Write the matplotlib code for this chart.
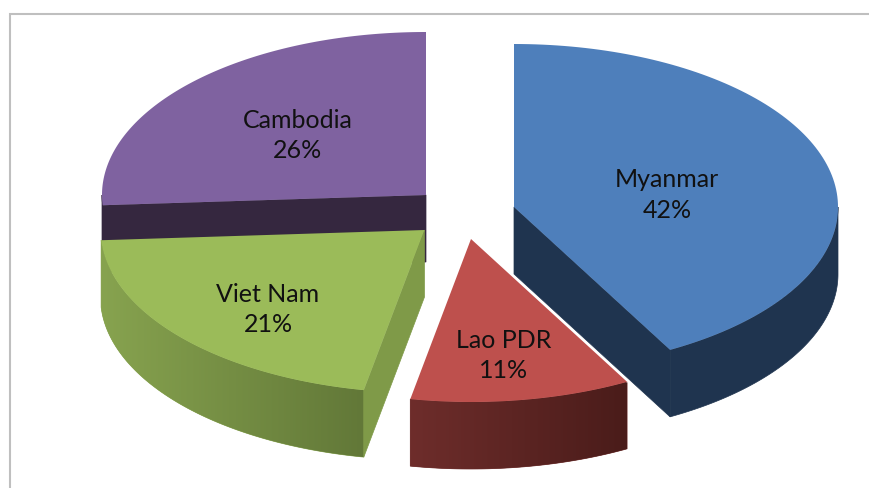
import numpy as np
import matplotlib
matplotlib.use('Agg')
import matplotlib.pyplot as plt
from matplotlib.colors import to_rgb
from matplotlib.patches import Polygon

# values, clockwise from 12 o'clock
labels = ['Myanmar', 'Lao PDR', 'Viet Nam', 'Cambodia']
values = [42, 11, 21, 26]

top_colors = ['#4E7FBB', '#BE504D', '#9BBB59', '#7F62A0']
face_colors = ['#1F344F', '#4A1C1A', '#7F9A48', '#35273F']
# outer wall gradient, left to right
wall_colors = [('#1F344F', '#1F344F'), ('#6E2D2B', '#4A1C1A'),
               ('#87A34F', '#627838'), ('#35273F', '#35273F')]

# exploded slice apex in pixels
apex_x = [514, 471, 424.5, 426]
apex_y = [208, 240, 231, 196]
label_x = [667, 504, 268, 298]
label_y = [195, 355.5, 309.5, 135.5]

rx = 324
ry = 163
depth = 67


def rim(cx, cy, a, b):
    t = np.radians(np.linspace(a, b, 120))
    return np.column_stack([cx + rx * np.sin(t), cy - ry * np.cos(t)])


def draw_wall(pts, colors):
    poly = Polygon(pts, closed=True, fc=colors[0], ec=colors[0], lw=0.5, zorder=order)
    ax.add_patch(poly)
    if colors[0] != colors[1]:
        c0, c1 = np.array(to_rgb(colors[0])), np.array(to_rgb(colors[1]))
        grad = np.linspace(0, 1, 256)[None, :, None] * (c1 - c0) + c0
        im = ax.imshow(grad, extent=(pts[:, 0].min(), pts[:, 0].max(), pts[:, 1].max(), pts[:, 1].min()),
                       aspect='auto', zorder=order + 0.1)
        im.set_clip_path(poly)


def draw_cut(cx, cy, angle, color):
    tip = rim(cx, cy, angle, angle)[0]
    pts = np.array([[cx, cy], tip, tip + [0, depth], [cx, cy + depth]])
    ax.add_patch(Polygon(pts, closed=True, fc=color, ec=color, lw=0.5, zorder=order + 0.2))


fig = plt.figure(figsize=(8.69, 4.89), dpi=100, facecolor='white')
ax = fig.add_axes([0, 0, 1, 1])

# chart frame
ax.plot([10, 10, 869], [489, 14.5, 14.5], color='#BFBFBF', lw=1.5, solid_joinstyle='miter', zorder=0)

edges = np.cumsum([0] + values) / sum(values) * 360
# back slices first, the red one last because it sits over the blue wall
for order, i in zip([1, 2, 3, 4], [3, 2, 0, 1]):
    a, b = edges[i], edges[i + 1]
    cx, cy = apex_x[i], apex_y[i]

    lo, hi = max(a, 90), min(b, 270)
    if hi > lo:
        arc = rim(cx, cy, lo, hi)
        draw_wall(np.vstack([arc, arc[::-1] + [0, depth]]), wall_colors[i])
    if np.sin(np.radians(a)) < -1e-6:
        draw_cut(cx, cy, a, face_colors[i])
    if np.sin(np.radians(b)) > 1e-6:
        draw_cut(cx, cy, b, face_colors[i])

    top = np.vstack([[cx, cy], rim(cx, cy, a, b)])
    ax.add_patch(Polygon(top, closed=True, fc=top_colors[i], ec='none', zorder=order + 0.3))

    ax.text(label_x[i], label_y[i], '%s\n%d%%' % (labels[i], values[i]), ha='center', va='center',
            family='Lato', fontsize=18, color='#111111', linespacing=1.38, zorder=6)

# thin white seam where the red slice crosses the blue wall
seam = rim(apex_x[1], apex_y[1], edges[1], edges[1])[0]
ax.plot([apex_x[1], seam[0]], [apex_y[1], seam[1]], color='white', lw=1, zorder=4.2)

ax.set_xlim(0, 869)
ax.set_ylim(489, 0)
ax.axis('off')
fig.savefig('out.png', dpi=100)
